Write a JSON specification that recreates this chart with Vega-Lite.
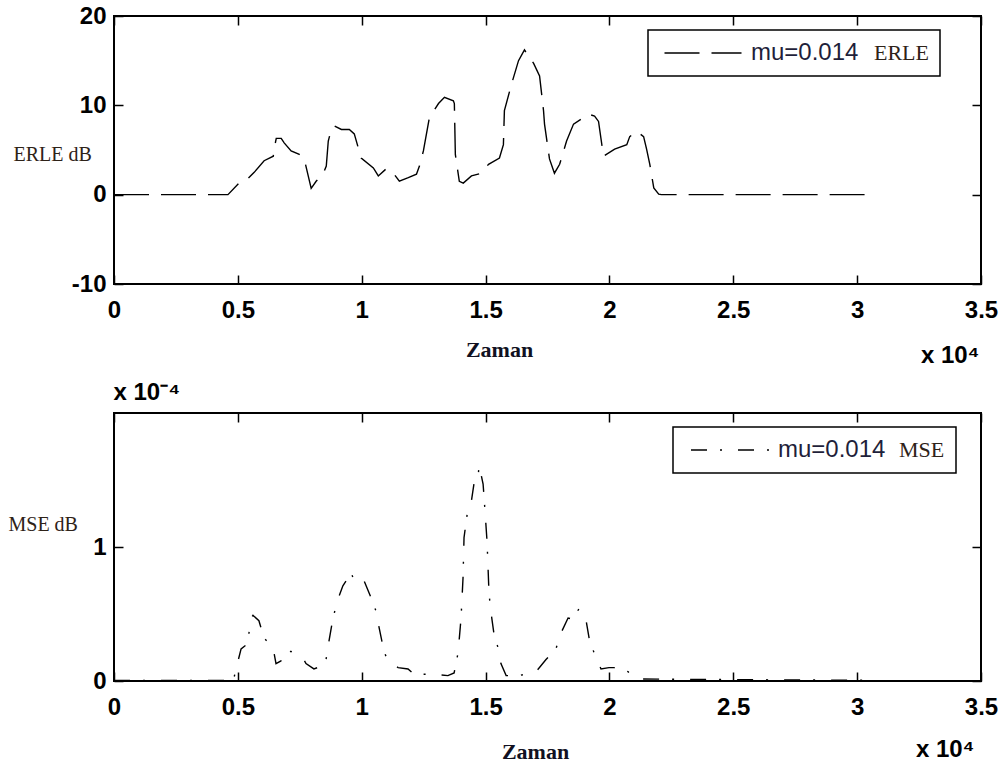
{
  "$schema": "https://vega.github.io/schema/vega-lite/v6.json",
  "background": "white",
  "padding": {"left": 7, "top": 3, "right": 5, "bottom": 5},
  "spacing": 129,
  "bounds": "flush",
  "resolve": {"scale": {"strokeDash": "independent"}, "legend": {"strokeDash": "independent"}},
  "vconcat": [
    {
      "width": 867,
      "height": 268,
      "data": {"values": [
        {"zaman": 0, "value": 0}, {"zaman": 0.46, "value": 0}, {"zaman": 0.505, "value": 1.3}, {"zaman": 0.53, "value": 1.5},
        {"zaman": 0.566, "value": 2.5}, {"zaman": 0.606, "value": 3.8}, {"zaman": 0.643, "value": 4.3}, {"zaman": 0.647, "value": 5.2},
        {"zaman": 0.655, "value": 6.3}, {"zaman": 0.675, "value": 6.3}, {"zaman": 0.687, "value": 5.8}, {"zaman": 0.715, "value": 4.9},
        {"zaman": 0.748, "value": 4.5}, {"zaman": 0.768, "value": 4.0}, {"zaman": 0.796, "value": 0.7}, {"zaman": 0.816, "value": 1.5},
        {"zaman": 0.845, "value": 2.4}, {"zaman": 0.857, "value": 3.2}, {"zaman": 0.865, "value": 6.0}, {"zaman": 0.877, "value": 7.3},
        {"zaman": 0.889, "value": 7.7}, {"zaman": 0.918, "value": 7.3}, {"zaman": 0.95, "value": 7.3}, {"zaman": 0.97, "value": 6.8},
        {"zaman": 0.998, "value": 4.1}, {"zaman": 1.047, "value": 3.0}, {"zaman": 1.067, "value": 2.1}, {"zaman": 1.099, "value": 2.9},
        {"zaman": 1.128, "value": 2.4}, {"zaman": 1.152, "value": 1.5}, {"zaman": 1.188, "value": 1.9}, {"zaman": 1.221, "value": 2.3},
        {"zaman": 1.233, "value": 3.2}, {"zaman": 1.249, "value": 4.9}, {"zaman": 1.273, "value": 8.6}, {"zaman": 1.31, "value": 10.2},
        {"zaman": 1.334, "value": 10.9}, {"zaman": 1.37, "value": 10.5}, {"zaman": 1.374, "value": 10.2}, {"zaman": 1.378, "value": 4.5},
        {"zaman": 1.394, "value": 1.5}, {"zaman": 1.41, "value": 1.3}, {"zaman": 1.443, "value": 2.1}, {"zaman": 1.483, "value": 2.4},
        {"zaman": 1.512, "value": 3.4}, {"zaman": 1.556, "value": 4.1}, {"zaman": 1.572, "value": 5.6}, {"zaman": 1.576, "value": 9.4},
        {"zaman": 1.605, "value": 12.4}, {"zaman": 1.633, "value": 15.0}, {"zaman": 1.657, "value": 16.2}, {"zaman": 1.694, "value": 14.7},
        {"zaman": 1.718, "value": 13.3}, {"zaman": 1.734, "value": 9.4}, {"zaman": 1.738, "value": 7.9}, {"zaman": 1.758, "value": 4.0},
        {"zaman": 1.778, "value": 2.4}, {"zaman": 1.799, "value": 3.4}, {"zaman": 1.827, "value": 6.0}, {"zaman": 1.855, "value": 7.9},
        {"zaman": 1.916, "value": 9.0}, {"zaman": 1.94, "value": 8.8}, {"zaman": 1.956, "value": 8.2}, {"zaman": 1.976, "value": 4.3},
        {"zaman": 2.021, "value": 5.1}, {"zaman": 2.07, "value": 5.6}, {"zaman": 2.082, "value": 6.5}, {"zaman": 2.11, "value": 7.1},
        {"zaman": 2.138, "value": 6.5}, {"zaman": 2.15, "value": 5.1}, {"zaman": 2.163, "value": 3.4}, {"zaman": 2.179, "value": 0.75},
        {"zaman": 2.199, "value": 0.05}, {"zaman": 2.21, "value": 0}, {"zaman": 3.03, "value": 0}
      ]},
      "layer": [
        {
          "mark": {"type": "line", "color": "black", "strokeWidth": 1.4},
          "encoding": {
            "x": {"field": "zaman", "type": "quantitative", "scale": {"domain": [0, 3.5], "nice": false},
              "axis": {"orient": "bottom", "values": [0, 0.5, 1, 1.5, 2, 2.5, 3, 3.5], "title": "Zaman",
                "titleX": 385, "titleY": 65, "titleAlign": "center", "titleBaseline": "middle"}},
            "y": {"field": "value", "type": "quantitative", "scale": {"domain": [-10, 20], "nice": false, "zero": false},
              "axis": {"orient": "left", "values": [-10, 0, 10, 20], "title": "ERLE dB", "titleAngle": 0,
                "titleX": -101, "titleY": 138, "titleAlign": "left", "titleBaseline": "middle",
                "titleFont": "Liberation Serif", "titleFontWeight": "normal", "titleFontSize": 20, "titleColor": "#2e2218"}},
            "strokeDash": {"datum": "mu=0.014", "type": "nominal",
              "scale": {"domain": ["mu=0.014"], "range": [[35, 12]]},
              "legend": {"orient": "none", "legendX": 534, "legendY": 14, "title": "ERLE\u00a0\u00a0\u00a0\u00a0\u00a0", "titleOrient": "right",
                "titlePadding": 16, "titleColor": "#2e2218", "titleFont": "Liberation Serif", "titleFontSize": 22,
                "symbolType": "M-3.85,0H3.85", "symbolOffset": 32, "labelOffset": 36}}
          }
        },
        {
          "mark": {"type": "line", "strokeOpacity": 0},
          "encoding": {
            "x": {"field": "zaman", "type": "quantitative",
              "axis": {"orient": "top", "labels": false, "values": [0, 0.5, 1, 1.5, 2, 2.5, 3, 3.5], "title": "x 10⁴",
                "titleX": 865, "titleY": 339, "titleAlign": "right", "titleBaseline": "middle"}},
            "y": {"field": "value", "type": "quantitative",
              "axis": {"orient": "right", "labels": false, "values": [-10, 0, 10, 20], "title": null}}
          }
        }
      ],
      "resolve": {"axis": {"x": "independent", "y": "independent"}}
    },
    {
      "width": 867,
      "height": 268,
      "data": {"values": [
        {"zaman": 0, "value": 0.005}, {"zaman": 0.48, "value": 0.005}, {"zaman": 0.484, "value": 0.02}, {"zaman": 0.49, "value": 0.07},
        {"zaman": 0.513, "value": 0.24}, {"zaman": 0.541, "value": 0.28}, {"zaman": 0.545, "value": 0.36}, {"zaman": 0.553, "value": 0.47},
        {"zaman": 0.561, "value": 0.49}, {"zaman": 0.585, "value": 0.45}, {"zaman": 0.606, "value": 0.32}, {"zaman": 0.642, "value": 0.25},
        {"zaman": 0.654, "value": 0.13}, {"zaman": 0.674, "value": 0.15}, {"zaman": 0.702, "value": 0.22}, {"zaman": 0.715, "value": 0.22},
        {"zaman": 0.763, "value": 0.17}, {"zaman": 0.775, "value": 0.13}, {"zaman": 0.807, "value": 0.09}, {"zaman": 0.836, "value": 0.11},
        {"zaman": 0.856, "value": 0.16}, {"zaman": 0.868, "value": 0.30}, {"zaman": 0.884, "value": 0.47}, {"zaman": 0.904, "value": 0.61},
        {"zaman": 0.924, "value": 0.71}, {"zaman": 0.945, "value": 0.77}, {"zaman": 0.957, "value": 0.81}, {"zaman": 0.969, "value": 0.75},
        {"zaman": 0.989, "value": 0.77}, {"zaman": 1.009, "value": 0.75}, {"zaman": 1.038, "value": 0.62}, {"zaman": 1.058, "value": 0.52},
        {"zaman": 1.07, "value": 0.40}, {"zaman": 1.09, "value": 0.22}, {"zaman": 1.106, "value": 0.15}, {"zaman": 1.147, "value": 0.10},
        {"zaman": 1.187, "value": 0.09}, {"zaman": 1.211, "value": 0.05}, {"zaman": 1.292, "value": 0.05}, {"zaman": 1.348, "value": 0.04},
        {"zaman": 1.373, "value": 0.06}, {"zaman": 1.389, "value": 0.21}, {"zaman": 1.401, "value": 0.47}, {"zaman": 1.409, "value": 0.77},
        {"zaman": 1.413, "value": 1.07}, {"zaman": 1.429, "value": 1.29}, {"zaman": 1.441, "value": 1.32}, {"zaman": 1.453, "value": 1.47},
        {"zaman": 1.47, "value": 1.53}, {"zaman": 1.474, "value": 1.61}, {"zaman": 1.49, "value": 1.47}, {"zaman": 1.494, "value": 1.37},
        {"zaman": 1.506, "value": 1.04}, {"zaman": 1.514, "value": 0.65}, {"zaman": 1.522, "value": 0.51}, {"zaman": 1.534, "value": 0.35},
        {"zaman": 1.55, "value": 0.25}, {"zaman": 1.562, "value": 0.13}, {"zaman": 1.583, "value": 0.04}, {"zaman": 1.635, "value": 0.04},
        {"zaman": 1.704, "value": 0.07}, {"zaman": 1.744, "value": 0.16}, {"zaman": 1.784, "value": 0.24}, {"zaman": 1.805, "value": 0.36},
        {"zaman": 1.833, "value": 0.47}, {"zaman": 1.853, "value": 0.46}, {"zaman": 1.877, "value": 0.54}, {"zaman": 1.906, "value": 0.45},
        {"zaman": 1.918, "value": 0.32}, {"zaman": 1.938, "value": 0.21}, {"zaman": 1.966, "value": 0.09}, {"zaman": 1.998, "value": 0.10},
        {"zaman": 2.019, "value": 0.10}, {"zaman": 2.075, "value": 0.07}, {"zaman": 2.087, "value": 0.05}, {"zaman": 2.128, "value": 0.015},
        {"zaman": 2.5, "value": 0.01}, {"zaman": 3.07, "value": 0.005}
      ]},
      "layer": [
        {
          "mark": {"type": "line", "color": "black", "strokeWidth": 1.4},
          "encoding": {
            "x": {"field": "zaman", "type": "quantitative", "scale": {"domain": [0, 3.5], "nice": false},
              "axis": {"orient": "bottom", "values": [0, 0.5, 1, 1.5, 2, 2.5, 3, 3.5], "title": "Zaman",
                "titleX": 421, "titleY": 70, "titleAlign": "center", "titleBaseline": "middle"}},
            "y": {"field": "value", "type": "quantitative", "scale": {"domain": [0, 2], "nice": false},
              "axis": {"orient": "left", "values": [0, 1], "title": "MSE dB", "titleAngle": 0,
                "titleX": -106, "titleY": 111, "titleAlign": "left", "titleBaseline": "middle",
                "titleFont": "Liberation Serif", "titleFontWeight": "normal", "titleFontSize": 20, "titleColor": "#2e2218"}},
            "strokeDash": {"datum": "mu=0.014", "type": "nominal",
              "scale": {"domain": ["mu=0.014"], "range": [[16, 13, 2, 16]]},
              "legend": {"orient": "none", "legendX": 559, "legendY": 14, "title": "MSE\u00a0\u00a0\u00a0", "titleOrient": "right",
                "titlePadding": 14, "titleColor": "#2e2218", "titleFont": "Liberation Serif", "titleFontSize": 22,
                "symbolType": "M-4,0H4", "symbolOffset": 35, "labelOffset": 35}}
          }
        },
        {
          "mark": {"type": "line", "strokeOpacity": 0},
          "encoding": {
            "x": {"field": "zaman", "type": "quantitative",
              "axis": {"orient": "top", "labels": false, "values": [0, 0.5, 1, 1.5, 2, 2.5, 3, 3.5], "title": "x 10⁴",
                "titleX": 860, "titleY": 336, "titleAlign": "right", "titleBaseline": "middle"}},
            "y": {"field": "value", "type": "quantitative",
              "axis": {"orient": "right", "labels": false, "values": [0, 1], "title": "x 10⁻⁴",
                "titleAngle": 0, "titleX": -868, "titleY": -21, "titleAlign": "left", "titleBaseline": "middle"}}
          }
        }
      ],
      "resolve": {"axis": {"x": "independent", "y": "independent"}}
    }
  ],
  "config": {
    "view": {"stroke": "black", "strokeWidth": 2},
    "axis": {
      "domain": false, "grid": false,
      "ticks": true, "tickSize": -9, "tickColor": "black", "tickWidth": 1.5,
      "labelFont": "Liberation Sans", "labelFontWeight": "bold", "labelFontSize": 24, "labelColor": "black",
      "labelFlush": false, "labelOverlap": false, "labelBound": false,
      "labelExpr": "'' + datum.value",
      "titleFont": "Liberation Serif", "titleFontWeight": "bold", "titleFontSize": 22, "titleColor": "#111122"
    },
    "axisX": {"labelPadding": 23},
    "axisY": {"labelPadding": 17},
    "axisTop": {"titleFont": "Liberation Sans", "titleFontWeight": "bold", "titleFontSize": 24, "titleColor": "black"},
    "axisRight": {"titleFont": "Liberation Sans", "titleFontWeight": "bold", "titleFontSize": 24, "titleColor": "black"},
    "legend": {
      "symbolSize": 400, "symbolStrokeWidth": 1.5, "symbolStrokeColor": "black",
      "labelFont": "Liberation Sans", "labelFontSize": 24, "labelColor": "#1f1f3a", "labelLimit": 300,
      "titleFontWeight": "normal", "titleBaseline": "middle",
      "strokeColor": "black", "strokeWidth": 1.5, "padding": 11
    }
  }
}
